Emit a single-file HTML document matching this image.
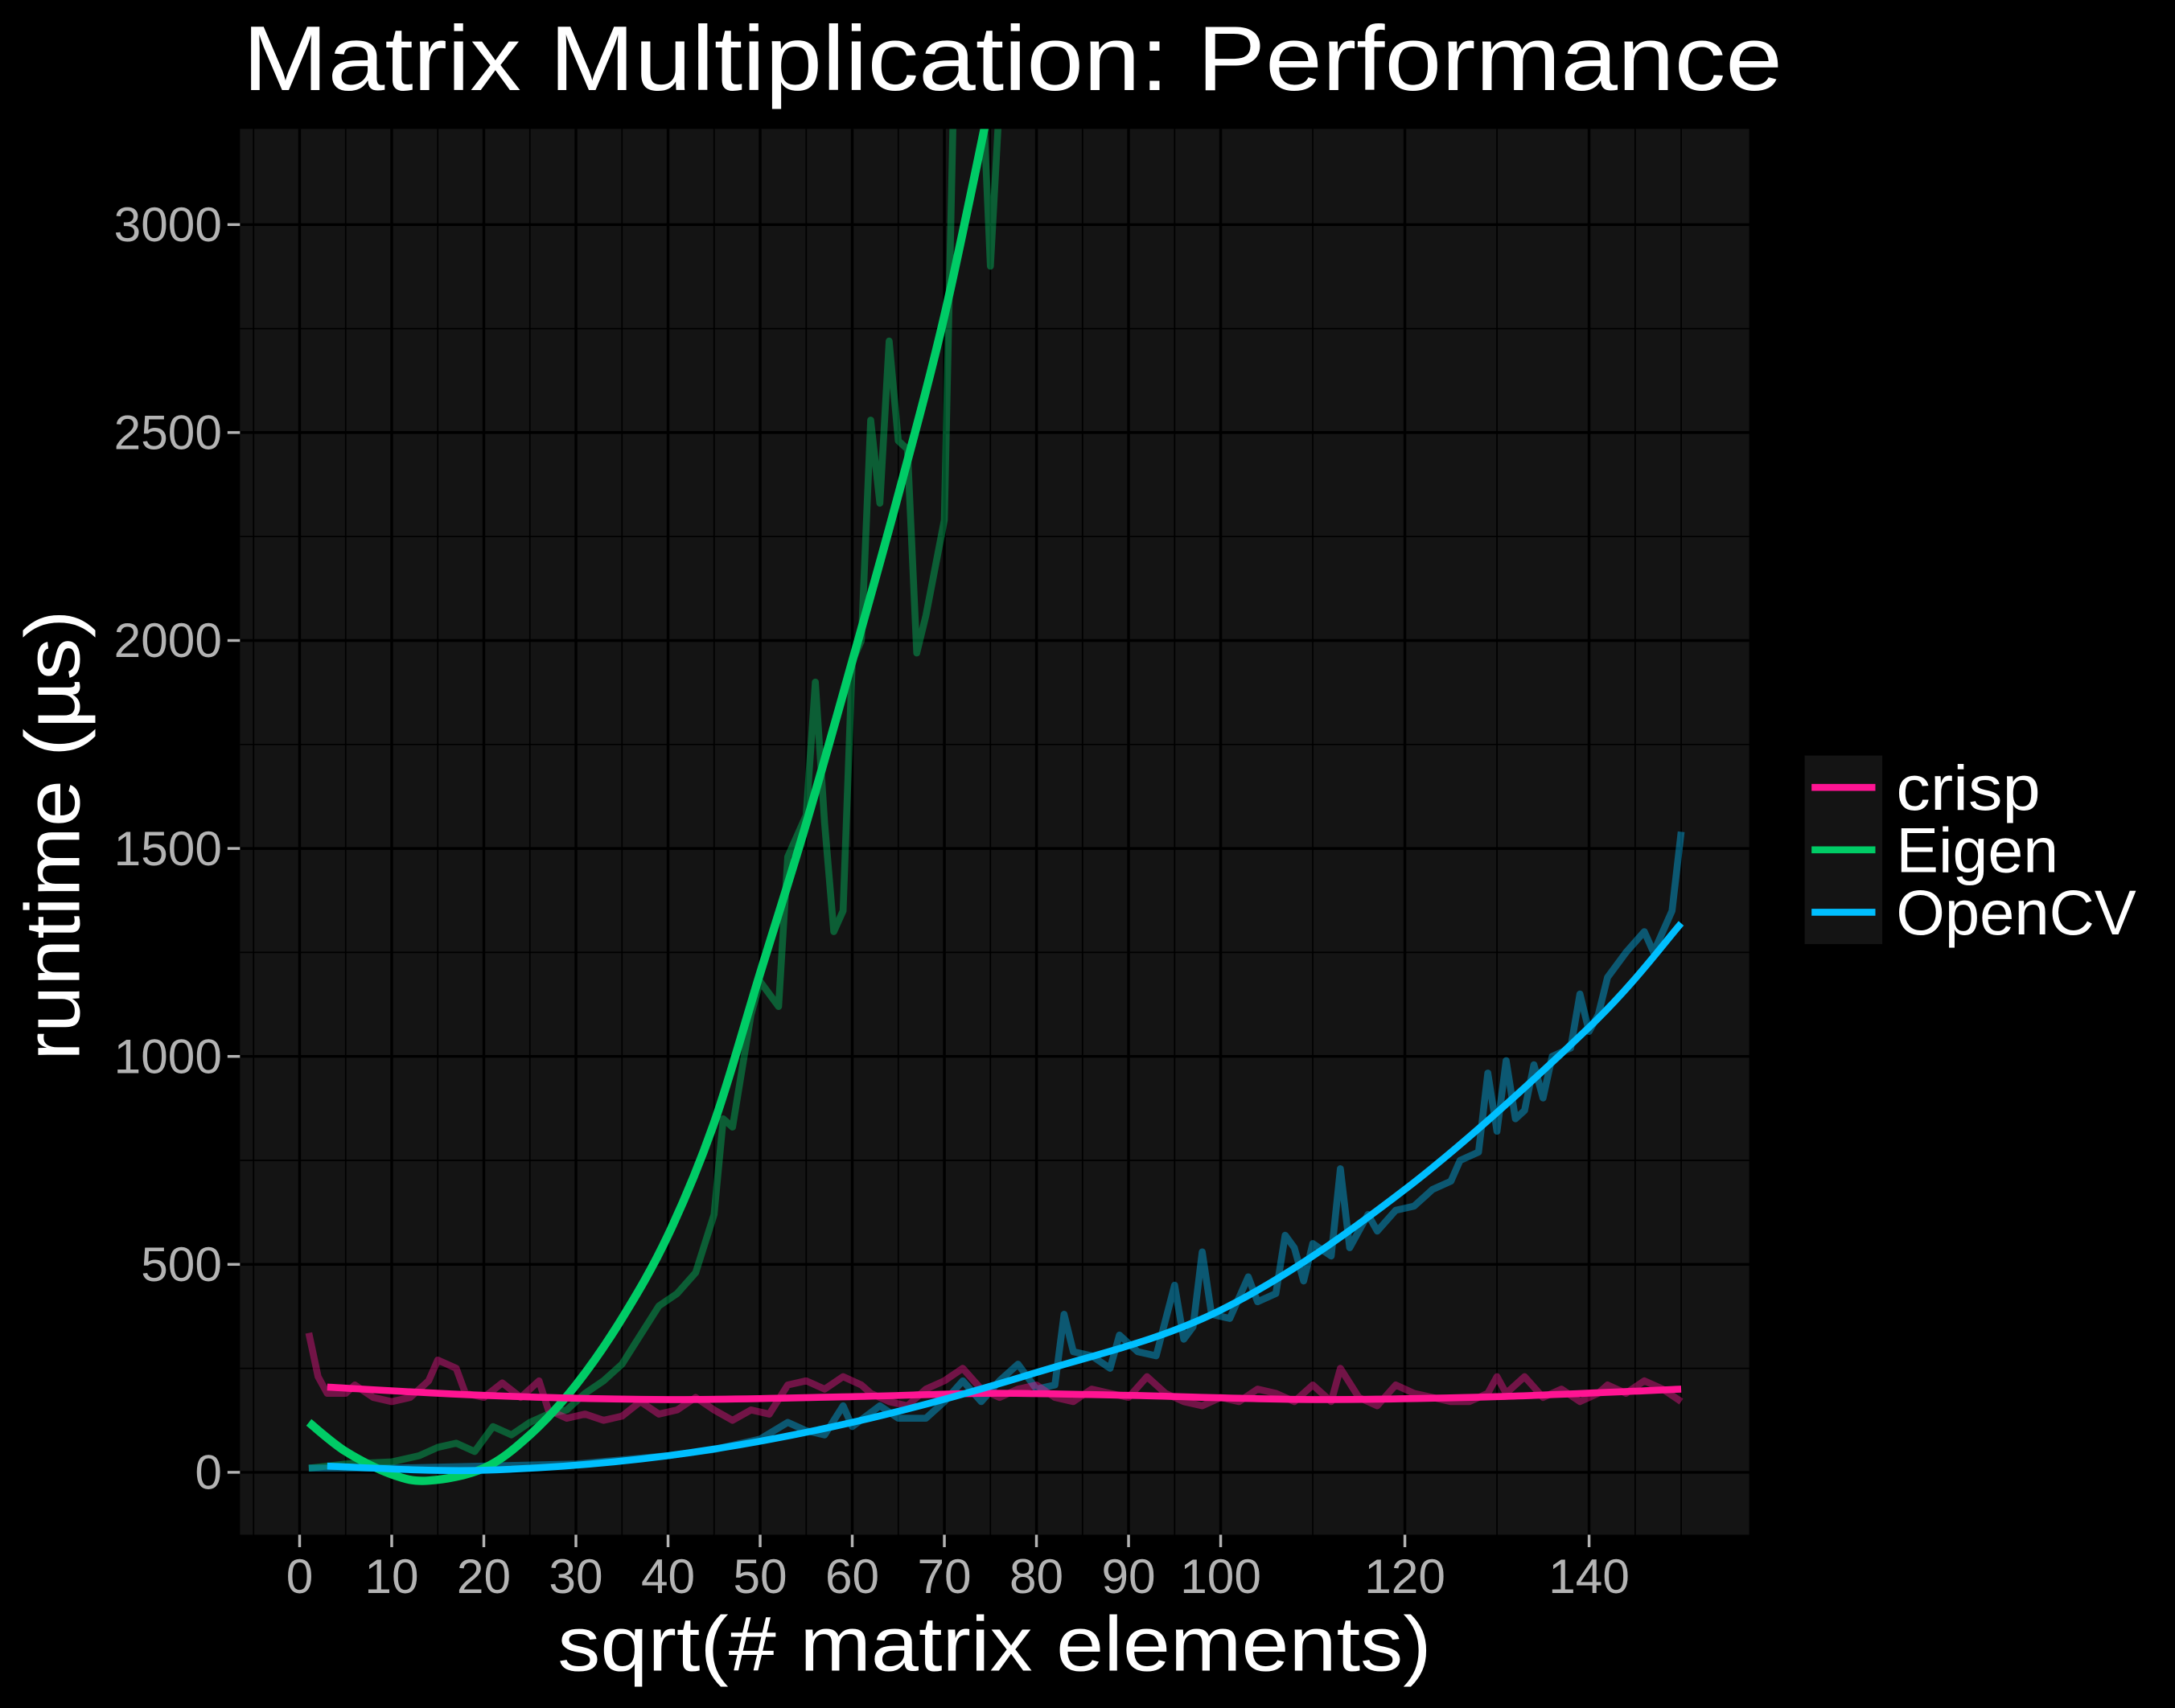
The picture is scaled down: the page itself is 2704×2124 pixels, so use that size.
<!DOCTYPE html>
<html><head><meta charset="utf-8"><style>
html,body{margin:0;padding:0;background:#000;}
svg{display:block;font-family:"Liberation Sans",sans-serif;}
</style></head><body>
<svg id="chart" width="2704" height="2124" viewBox="0 0 1568 1232" preserveAspectRatio="none" xmlns="http://www.w3.org/2000/svg">
<rect width="1568" height="1232" fill="#000"/>
<defs><clipPath id="clip"><rect x="173" y="93" width="1088" height="1014"/></clipPath></defs>
<rect x="173" y="93" width="1088" height="1014" fill="#141414"/>
<g id="grid"></g>
<g id="series" clip-path="url(#clip)"></g>
<g id="axes"></g>
<text x="175" y="65" fill="#fff" font-size="66" textLength="1110" lengthAdjust="spacingAndGlyphs">Matrix Multiplication: Performance</text>
<text x="402" y="1205" fill="#fff" font-size="56" textLength="630" lengthAdjust="spacingAndGlyphs">sqrt(# matrix elements)</text>
<text transform="translate(57,765) rotate(-90)" fill="#fff" font-size="56" textLength="325" lengthAdjust="spacingAndGlyphs">runtime (µs)</text>
<g>
<rect x="1301" y="545" width="56" height="136" fill="#141414"/>
<line x1="1306" x2="1352" y1="568" y2="568" stroke="#FF1493" stroke-width="5"/>
<line x1="1306" x2="1352" y1="613" y2="613" stroke="#00CC66" stroke-width="5"/>
<line x1="1306" x2="1352" y1="658" y2="658" stroke="#00BFFF" stroke-width="5"/>
<text x="1367" y="584" fill="#fff" font-size="46" textLength="104" lengthAdjust="spacingAndGlyphs">crisp</text>
<text x="1367" y="629" fill="#fff" font-size="46" textLength="117" lengthAdjust="spacingAndGlyphs">Eigen</text>
<text x="1367" y="674" fill="#fff" font-size="46" textLength="173" lengthAdjust="spacingAndGlyphs">OpenCV</text>
</g>
</svg>
<script>
const xTicks=[0,10,20,30,40,50,60,70,80,90,100,120,140];
const xMinor=[-5,5,15,25,35,45,55,65,75,85,95,110,130,145,150];
const yTicks=[0,500,1000,1500,2000,2500,3000];
const yMinor=[-250,250,750,1250,1750,2250,2750];
const crispX=[1,2,3,5,6,8,10,12,14,15,17,18,20,22,24,26,27,29,31,33,35,37,39,41,43,45,47,49,51,53,55,57,59,61,62,64,66,68,70,72,74,76,78,80,82,84,86,88,90,92,94,96,98,100,102,104,106,108,110,112,113,115,117,119,121,123,125,127,129,130,131,133,135,137,139,141,142,144,146,148,150];
const crispRaw=[335,230,190,190,210,180,170,180,220,270,250,190,180,215,180,220,150,130,140,125,135,170,140,150,180,150,125,150,140,210,220,200,230,210,190,170,160,200,220,250,200,180,200,210,180,170,200,190,180,230,190,170,160,180,170,200,190,170,210,170,250,180,160,210,190,180,170,170,190,230,190,230,180,200,170,190,210,190,220,200,170];
const crispFitX=[3,20,40,60,75,90,110,130,150];
const crispFit=[205,185,175,182,190,185,175,182,200];
const eigenX=[1,5,10,13,15,17,19,21,23,25,27,29,31,33,35,37,39,41,43,45,46,47,49,50,52,53,55,56,57,58,59,60,61,62,63,64,65,66,67,68,70,71,73,74,75,76,77];
const eigenRaw=[10,20,25,40,60,70,50,110,90,120,140,150,190,220,260,330,400,430,480,620,850,830,1100,1180,1120,1480,1580,1900,1560,1300,1350,1950,2000,2530,2330,2720,2480,2460,1970,2060,2290,3300,3500,3400,2900,3300,3500];
const eigenFitX=[1,5,10,14,20,25,30,35,40,45,50,55,60,65,70,75];
const eigenFit=[120,50,-5,-20,10,90,210,370,570,840,1200,1560,1950,2350,2780,3300];
const cvX=[1,10,20,30,40,45,50,53,55,57,59,60,63,65,68,70,72,74,76,78,80,82,83,84,86,88,89,91,93,95,96,97,98,99,101,103,104,106,107,108,109,110,112,113,114,116,117,119,121,123,125,126,128,129,130,131,132,133,134,135,136,138,139,140,141,142,144,146,147,149,150];
const cvRaw=[10,10,15,20,40,55,80,120,100,90,160,110,160,130,130,170,220,170,220,260,200,210,380,290,280,250,330,290,280,450,320,350,530,380,370,470,410,430,570,540,460,550,520,730,540,620,580,630,640,680,700,750,770,960,820,990,850,870,980,900,1000,1020,1150,1060,1100,1190,1250,1300,1250,1350,1540];
const cvFitX=[3,20,40,60,80,100,120,140,150];
const cvFit=[15,5,40,120,240,390,680,1070,1320];

const NS="http://www.w3.org/2000/svg";
const xs=v=>216+v*6.64, ys=v=>1062-v*0.3;
const grid=document.getElementById('grid'), axes=document.getElementById('axes'), series=document.getElementById('series');
function mk(tag,attrs,parent){const e=document.createElementNS(NS,tag);for(const k in attrs)e.setAttribute(k,attrs[k]);parent.appendChild(e);return e;}
xMinor.forEach(v=>{const l=mk('line',{x1:xs(v),x2:xs(v),y1:93,y2:1107,stroke:'#000','stroke-width':1},grid);

});
yMinor.forEach(v=>{const l=mk('line',{x1:173,x2:1261,y1:ys(v),y2:ys(v),stroke:'#000','stroke-width':1},grid);

});
xTicks.forEach(v=>{const l=mk('line',{x1:xs(v),x2:xs(v),y1:93,y2:1107,stroke:'#000','stroke-width':2},grid);


const t=mk('line',{x1:xs(v),x2:xs(v),y1:1107,y2:1116,stroke:'#B3B3B3','stroke-width':2},axes);


const tx=mk('text',{x:xs(v),y:1149,fill:'#B3B3B3','font-size':35,'text-anchor':'middle'},axes);tx.textContent=v;

});
yTicks.forEach(v=>{const l=mk('line',{x1:173,x2:1261,y1:ys(v),y2:ys(v),stroke:'#000','stroke-width':2},grid);


const t=mk('line',{x1:164,x2:173,y1:ys(v),y2:ys(v),stroke:'#B3B3B3','stroke-width':2},axes);


const tx=mk('text',{x:160,y:ys(v)+12,fill:'#B3B3B3','font-size':35,'text-anchor':'end'},axes);tx.textContent=v;

});
function pts(X,Y){return X.map((x,i)=>xs(x).toFixed(1)+','+ys(Y[i]).toFixed(1)).join(' ');}
function smooth(X,Y){let d='M'+xs(X[0])+','+ys(Y[0]);const P=X.map((x,i)=>[xs(x),ys(Y[i])]);
for(let i=0;i<P.length-1;i++){const p0=P[Math.max(0,i-1)],p1=P[i],p2=P[i+1],p3=P[Math.min(P.length-1,i+2)];
d+=` C${p1[0]+(p2[0]-p0[0])/6},${p1[1]+(p2[1]-p0[1])/6} ${p2[0]-(p3[0]-p1[0])/6},${p2[1]-(p3[1]-p1[1])/6} ${p2[0]},${p2[1]}`;}return d;}
let e;
e=mk('polyline',{points:pts(eigenX,eigenRaw),fill:'none',stroke:'#00CC66','stroke-opacity':0.4,'stroke-width':5,'stroke-linejoin':'round'},series);


e=mk('polyline',{points:pts(cvX,cvRaw),fill:'none',stroke:'#00BFFF','stroke-opacity':0.4,'stroke-width':5,'stroke-linejoin':'round'},series);


e=mk('polyline',{points:pts(crispX,crispRaw),fill:'none',stroke:'#FF1493','stroke-opacity':0.4,'stroke-width':5,'stroke-linejoin':'round'},series);


e=mk('path',{d:smooth(eigenFitX,eigenFit),fill:'none',stroke:'#00CC66','stroke-width':6},series);


e=mk('path',{d:smooth(crispFitX,crispFit),fill:'none',stroke:'#FF1493','stroke-width':5},series);


e=mk('path',{d:smooth(cvFitX,cvFit),fill:'none',stroke:'#00BFFF','stroke-width':5},series);


</script>
</body></html>
